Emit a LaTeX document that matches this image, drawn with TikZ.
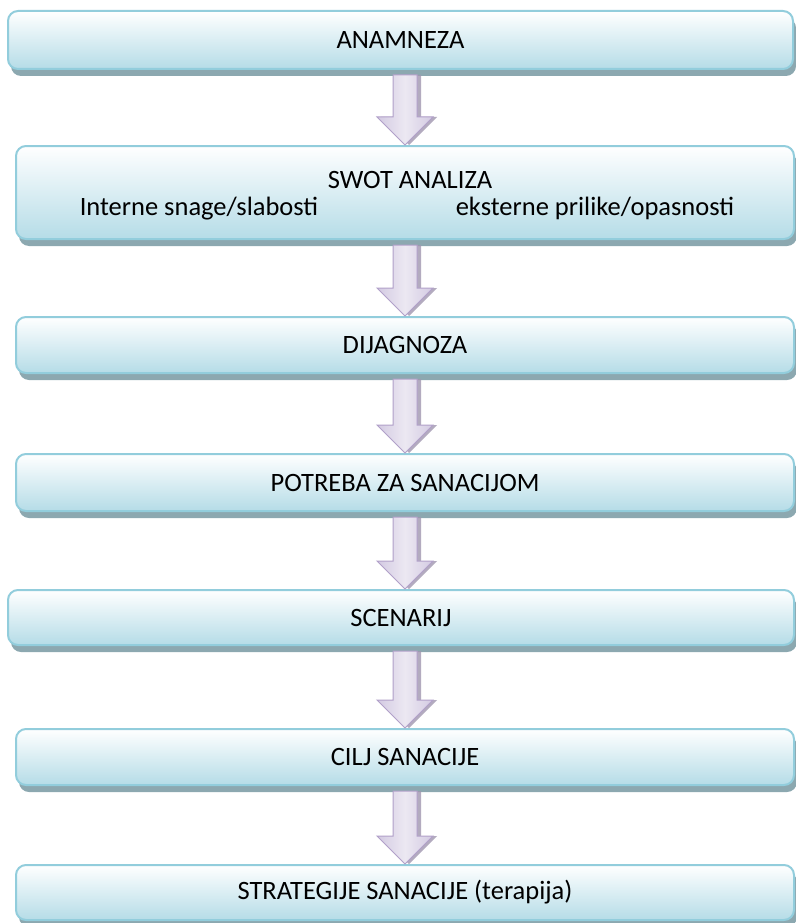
\documentclass[tikz,border=0pt]{standalone}
\usepackage{fontspec}
\setmainfont{Carlito}
\usetikzlibrary{shadows,calc}
\definecolor{boxborder}{HTML}{92CDDC}
\definecolor{boxbottom}{HTML}{B5DCE7}
\definecolor{boxshadow}{HTML}{8CA8B0}
\definecolor{arrowfill}{HTML}{ECE8F2}
\definecolor{arrowedge}{HTML}{B1A0C9}
\definecolor{arrowside}{HTML}{D3CAE2}
\definecolor{arrowshadow}{HTML}{A096B0}
\tikzset{
  flowbox/.style={draw=boxborder, line width=2pt, rounded corners=10pt,
    top color=white, bottom color=boxbottom, inner sep=0pt,
    drop shadow={shadow xshift=3pt, shadow yshift=-7pt, fill=boxshadow, opacity=1},
    font=\fontsize{26.5}{30}\selectfont, text=black},
  flowtext/.style={font=\fontsize{26.5}{30}\selectfont, text=black, inner sep=0pt},
}
\newcommand\flowarrow[2]{%
  \path[fill=arrowshadow, opacity=.8, shift={(4pt,-3pt)}] let \p1=(#1.south), \p2=(#2.north) in
    (393pt,\y1-5pt) -- (417pt,\y1-5pt) -- (417pt,\y2+28pt) -- (433pt,\y2+28pt) -- (405pt,\y2)
    -- (377pt,\y2+28pt) -- (393pt,\y2+28pt) -- cycle;
  \path[draw=arrowedge, line width=1pt, left color=arrowside, right color=arrowside, middle color=arrowfill]
    let \p1=(#1.south), \p2=(#2.north) in
    (393pt,\y1-5pt) -- (417pt,\y1-5pt) -- (417pt,\y2+28pt) -- (433pt,\y2+28pt) -- (405pt,\y2)
    -- (377pt,\y2+28pt) -- (393pt,\y2+28pt) -- cycle;
}
\begin{document}
\begin{tikzpicture}[x=1pt,y=-1pt]
\useasboundingbox[fill=white] (0,0) rectangle (795,923);
\node[flowbox, minimum width=785pt, minimum height=58pt] (b1) at (400.5,40) {ANAMNEZA};
\node[flowbox, minimum width=778pt, minimum height=93pt] (b2) at (405,192.5) {};
\node[flowtext, anchor=base] (swot) at (410,188) {SWOT ANALIZA};
\node[flowtext, anchor=base] (int) at (199,215) {Interne snage/slabosti};
\node[flowtext, anchor=base] (ext) at (595,215) {eksterne prilike/opasnosti};
\node[flowbox, minimum width=778pt, minimum height=56pt] (b3) at (405,345) {DIJAGNOZA};
\node[flowbox, minimum width=778pt, minimum height=57pt] (b4) at (405,482.5) {POTREBA ZA SANACIJOM};
\node[flowbox, minimum width=786pt, minimum height=55pt] (b5) at (401,617.5) {SCENARIJ};
\node[flowbox, minimum width=778pt, minimum height=56pt] (b6) at (405,757) {CILJ SANACIJE};
\node[flowbox, minimum width=778pt, minimum height=55pt] (b7) at (405,892.5) {STRATEGIJE SANACIJE (terapija)};
\flowarrow{b1}{b2}
\flowarrow{b2}{b3}
\flowarrow{b3}{b4}
\flowarrow{b4}{b5}
\flowarrow{b5}{b6}
\flowarrow{b6}{b7}
\end{tikzpicture}
\end{document}
